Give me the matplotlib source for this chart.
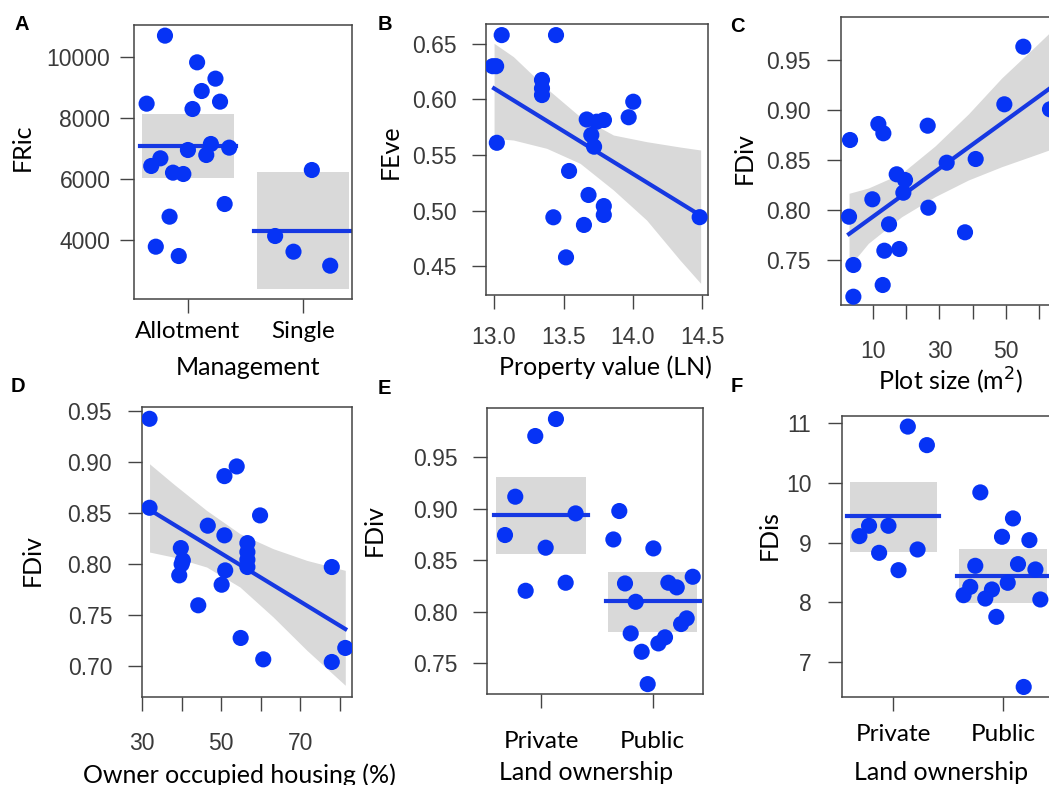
"""Functional diversity vs. garden characteristics, six visreg-style panels."""

import matplotlib

matplotlib.use("Agg")
import matplotlib.pyplot as plt

W, H = 1049, 785

# ---- A: FRic by management ----
mgmt_labels = ["Allotment", "Single"]
a_x = [0.80, 1.08, 1.24, 1.12, 0.64, 1.28, 1.04, 1.00, 1.20, 1.36, 1.16, 0.76,
       0.68, 0.87, 0.96, 1.32, 0.84, 0.72, 0.92, 2.08, 1.76, 1.92, 2.24]
a_y = [10700, 9825, 9290, 8885, 8470, 8536, 8295, 6951, 7148, 7028, 6787, 6678,
       6427, 6208, 6164, 5180, 4765, 3781, 3475, 6295, 4131, 3617, 3158]
a_fit = [7093, 4306]
a_lo = [6022, 2404]
a_hi = [8131, 6219]

# ---- B: FEve vs property value ----
b_x = [13.055, 13.446, 12.99, 13.015, 13.345, 13.345, 13.345, 14.002, 13.969,
       13.667, 13.739, 13.791, 13.70, 13.72, 13.02, 13.54, 13.68, 13.79, 13.79,
       13.427, 13.647, 13.518, 14.48]
b_y = [0.658, 0.658, 0.630, 0.630, 0.6176, 0.610, 0.604, 0.598, 0.584, 0.582,
       0.580, 0.5815, 0.568, 0.5575, 0.561, 0.5356, 0.514, 0.504, 0.496, 0.4939,
       0.487, 0.4578, 0.494]
b_line_x = [13.0, 14.48]
b_line_y = [0.610, 0.496]
b_band_x = [13.0, 13.139, 13.379, 13.619, 13.859, 14.098, 14.338, 14.487]
b_band_hi = [0.6506, 0.6386, 0.610, 0.5845, 0.568, 0.562, 0.5572, 0.5545]
b_band_lo = [0.565, 0.5635, 0.556, 0.5425, 0.5185, 0.4914, 0.4554, 0.4344]

# ---- C: FDiv vs plot size ----
c_x = [55.2, 49.5, 63.2, 11.7, 13.2, 26.5, 3.2, 32.2, 40.9, 17.2, 19.7, 19.2,
       9.9, 26.7, 2.9, 14.9, 37.7, 13.5, 18.0, 4.2, 13.0, 4.2]
c_y = [0.9633, 0.9057, 0.9007, 0.886, 0.8767, 0.8843, 0.870, 0.8473, 0.851,
       0.8357, 0.830, 0.8173, 0.8107, 0.8023, 0.7933, 0.7857, 0.7777, 0.7593,
       0.761, 0.745, 0.725, 0.7133]
c_line_x = [2.9, 62.9]
c_line_y = [0.776, 0.921]
c_band_x = [2.9, 8.7, 18.7, 28.7, 38.7, 48.7, 58.7, 62.9]
c_band_hi = [0.8167, 0.822, 0.8367, 0.864, 0.896, 0.932, 0.9633, 0.9767]
c_band_lo = [0.7433, 0.7667, 0.7933, 0.8133, 0.830, 0.8433, 0.855, 0.860]

# ---- D: FDiv vs owner occupied housing ----
d_x = [31.9, 53.9, 50.8, 31.9, 59.8, 46.6, 50.8, 39.8, 56.6, 40.3, 40.0, 56.6,
       56.6, 56.6, 39.4, 51.0, 50.1, 77.9, 44.2, 54.9, 60.6, 77.9, 81.3]
d_y = [0.9428, 0.896, 0.8865, 0.8554, 0.8479, 0.8378, 0.8283, 0.8158, 0.8207,
       0.8037, 0.800, 0.8119, 0.8044, 0.7972, 0.789, 0.7939, 0.7798, 0.7972,
       0.7596, 0.7275, 0.7065, 0.7039, 0.7177]
d_line_x = [31.9, 81.3]
d_line_y = [0.8535, 0.7363]
d_band_x = [31.9, 37.9, 46.3, 54.7, 63.1, 71.6, 81.3]
d_band_hi = [0.8986, 0.879, 0.8528, 0.830, 0.8152, 0.8037, 0.7939]
d_band_lo = [0.8119, 0.807, 0.7972, 0.7776, 0.7481, 0.7154, 0.681]

# ---- E: FDiv by land ownership ----
owner_labels = ["Private", "Public"]
e_x = [1.134, 0.949, 0.770, 1.310, 0.678, 1.042, 1.221, 0.863,
       1.701, 1.648, 2.006, 1.752, 2.140, 2.215, 2.358, 1.848, 2.304, 2.254,
       1.803, 2.110, 2.051, 1.901, 1.955]
e_y = [0.9869, 0.9704, 0.9115, 0.8953, 0.8743, 0.862, 0.828, 0.8202,
       0.8976, 0.870, 0.8613, 0.8273, 0.828, 0.8235, 0.8338, 0.8095, 0.7934,
       0.7879, 0.7788, 0.775, 0.7691, 0.761, 0.7296]
e_fit = [0.8934, 0.8099]
e_lo = [0.8558, 0.7804]
e_hi = [0.9303, 0.8387]

# ---- F: FDis by land ownership ----
f_x = [1.131, 1.305, 0.777, 0.954, 0.689, 0.869, 1.220, 1.046,
       1.793, 2.091, 1.991, 2.241, 1.747, 2.137, 2.296, 1.701, 1.640, 1.899,
       1.838, 2.043, 2.341, 1.939, 2.189]
f_y = [10.94, 10.63, 9.282, 9.282, 9.109, 8.83, 8.886, 8.54,
       9.84, 9.405, 9.098, 9.042, 8.613, 8.641, 8.552, 8.262, 8.122, 8.217,
       8.066, 8.329, 8.05, 7.76, 6.588]
f_fit = [9.444, 8.446]
f_lo = [8.847, 7.983]
f_hi = [10.018, 8.886]

POINT = "#0633F5"
LINE = "#1638E2"
BAND = "#D9D9D9"
FRAME = "#444444"
NUM_FONT = "Liberation Sans"
TXT_FONT = "Lato"


def add_panel(fig, left, right, top, bottom, xpad, ypad, right_spine=True):
    """Create axes from a pixel box (top-left origin)."""

    ax = fig.add_axes([left / W, 1 - bottom / H, (right - left) / W, (bottom - top) / H])
    for spine in ax.spines.values():
        spine.set_color(FRAME)
        spine.set_linewidth(1.1)
    ax.spines["right"].set_visible(right_spine)
    ax.tick_params(axis="both", direction="out", length=10, width=1.0, color=FRAME,
                   labelsize=16.5, labelcolor="#3a3a3a")
    ax.tick_params(axis="x", pad=xpad)
    ax.tick_params(axis="y", pad=ypad)
    return ax


def fig_text(fig, x, y, text, **kw):
    fig.text(x / W, 1 - y / H, text, **kw)


def group_panel(ax, xs, ys, fit, lo, hi):
    for i in range(len(fit)):
        pos = i + 1
        ax.fill_between([pos - 0.4, pos + 0.4], lo[i], hi[i], color=BAND, lw=0, zorder=1)
        ax.plot([pos - 0.42, pos + 0.42], [fit[i], fit[i]], color=LINE, lw=3, zorder=2)
    ax.scatter(xs, ys, s=135, color=POINT, edgecolors="none", zorder=3)


def trend_panel(ax, xs, ys, line_x, line_y, band_x, band_lo, band_hi):
    ax.fill_between(band_x, band_lo, band_hi, color=BAND, lw=0, zorder=1)
    ax.plot(line_x, line_y, color=LINE, lw=3, zorder=2)
    ax.scatter(xs, ys, s=135, color=POINT, edgecolors="none", zorder=3)


def set_num_ticks(ax, xticks, xlabels, yticks, ylabels):
    ax.set_xticks(xticks)
    ax.set_xticklabels(xlabels, family=NUM_FONT)
    ax.set_yticks(yticks)
    ax.set_yticklabels(ylabels, family=NUM_FONT)


def set_cat_ticks(ax, labels, yticks, ylabels):
    ax.set_xticks([1, 2])
    ax.set_xticklabels(labels, family=TXT_FONT, fontsize=17.5, color="black")
    ax.set_yticks(yticks)
    ax.set_yticklabels(ylabels, family=NUM_FONT)


def main() -> None:
    fig = plt.figure(figsize=(W / 100, H / 100), dpi=100)
    label_kw = dict(family=TXT_FONT, fontsize=18, color="black")
    letter_kw = dict(family=NUM_FONT, fontsize=14.5, fontweight="bold", ha="center", va="center")

    # A
    ax = add_panel(fig, 134, 352, 25, 299, xpad=6, ypad=7)
    group_panel(ax, a_x, a_y, a_fit, a_lo, a_hi)
    set_cat_ticks(ax, mgmt_labels, [4000, 6000, 8000, 10000],
                  ["4000", "6000", "8000", "10000"])
    ax.set_xlim(0.53, 2.43)
    ax.set_ylim(2066, 11049)
    fig_text(fig, 22, 147, "FRic", rotation=90, ha="center", va="center", **label_kw)
    fig_text(fig, 248, 375, "Management", ha="center", va="baseline", **label_kw)
    fig_text(fig, 22, 25, "A", **letter_kw)

    # B
    ax = add_panel(fig, 486, 708, 24, 295, xpad=12, ypad=11)
    trend_panel(ax, b_x, b_y, b_line_x, b_line_y, b_band_x, b_band_lo, b_band_hi)
    set_num_ticks(ax, [13.0, 13.5, 14.0, 14.5], ["13.0", "13.5", "14.0", "14.5"],
                  [0.45, 0.50, 0.55, 0.60, 0.65], ["0.45", "0.50", "0.55", "0.60", "0.65"])
    ax.set_xlim(12.942, 14.54)
    ax.set_ylim(0.4239, 0.668)
    fig_text(fig, 390, 152, "FEve", rotation=90, ha="center", va="center", **label_kw)
    fig_text(fig, 605, 375, "Property value (LN)", ha="center", va="baseline", **label_kw)
    fig_text(fig, 385, 25, "B", **letter_kw)

    # C
    ax = add_panel(fig, 841, 1049, 17, 305, xpad=15, ypad=12, right_spine=False)
    trend_panel(ax, c_x, c_y, c_line_x, c_line_y, c_band_x, c_band_lo, c_band_hi)
    set_num_ticks(ax, [10, 20, 30, 40, 50, 60], ["10", "", "30", "", "50", ""],
                  [0.75, 0.80, 0.85, 0.90, 0.95], ["0.75", "0.80", "0.85", "0.90", "0.95"])
    ax.set_xlim(0.49, 62.9)
    ax.set_ylim(0.705, 0.993)
    fig_text(fig, 744, 158, "FDiv", rotation=90, ha="center", va="center", **label_kw)
    fig_text(fig, 951, 390, "Plot size (m$^2$)", ha="center", va="baseline", **label_kw)
    fig_text(fig, 737, 26, "C", **letter_kw)

    # D
    ax = add_panel(fig, 142, 352, 407, 697, xpad=15, ypad=11.5)
    trend_panel(ax, d_x, d_y, d_line_x, d_line_y, d_band_x, d_band_lo, d_band_hi)
    set_num_ticks(ax, [30, 40, 50, 60, 70, 80], ["30", "", "50", "", "70", ""],
                  [0.70, 0.75, 0.80, 0.85, 0.90, 0.95],
                  ["0.70", "0.75", "0.80", "0.85", "0.90", "0.95"])
    ax.set_xlim(30.0, 83.0)
    ax.set_ylim(0.6695, 0.9544)
    fig_text(fig, 32, 560, "FDiv", rotation=90, ha="center", va="center", **label_kw)
    fig_text(fig, 239, 783, "Owner occupied housing (%)", ha="center", va="baseline", **label_kw)
    fig_text(fig, 18, 386, "D", **letter_kw)

    # E
    ax = add_panel(fig, 487, 703, 408, 694, xpad=17, ypad=11)
    group_panel(ax, e_x, e_y, e_fit, e_lo, e_hi)
    set_cat_ticks(ax, owner_labels, [0.75, 0.80, 0.85, 0.90, 0.95],
                  ["0.75", "0.80", "0.85", "0.90", "0.95"])
    ax.set_xlim(0.517, 2.45)
    ax.set_ylim(0.720, 0.9976)
    fig_text(fig, 374, 530, "FDiv", rotation=90, ha="center", va="center", **label_kw)
    fig_text(fig, 586, 780, "Land ownership", ha="center", va="baseline", **label_kw)
    fig_text(fig, 384, 389, "E", **letter_kw)

    # F
    ax = add_panel(fig, 842, 1049, 416, 697, xpad=9.5, ypad=12, right_spine=False)
    group_panel(ax, f_x, f_y, f_fit, f_lo, f_hi)
    set_cat_ticks(ax, owner_labels, [7, 8, 9, 10, 11], ["7", "8", "9", "10", "11"])
    ax.set_xlim(0.53, 2.42)
    ax.set_ylim(6.42, 11.117)
    fig_text(fig, 769, 535, "FDis", rotation=90, ha="center", va="center", **label_kw)
    fig_text(fig, 941, 780, "Land ownership", ha="center", va="baseline", **label_kw)
    fig_text(fig, 737, 387, "F", **letter_kw)

    fig.savefig("out.png", dpi=100)


if __name__ == "__main__":
    main()
